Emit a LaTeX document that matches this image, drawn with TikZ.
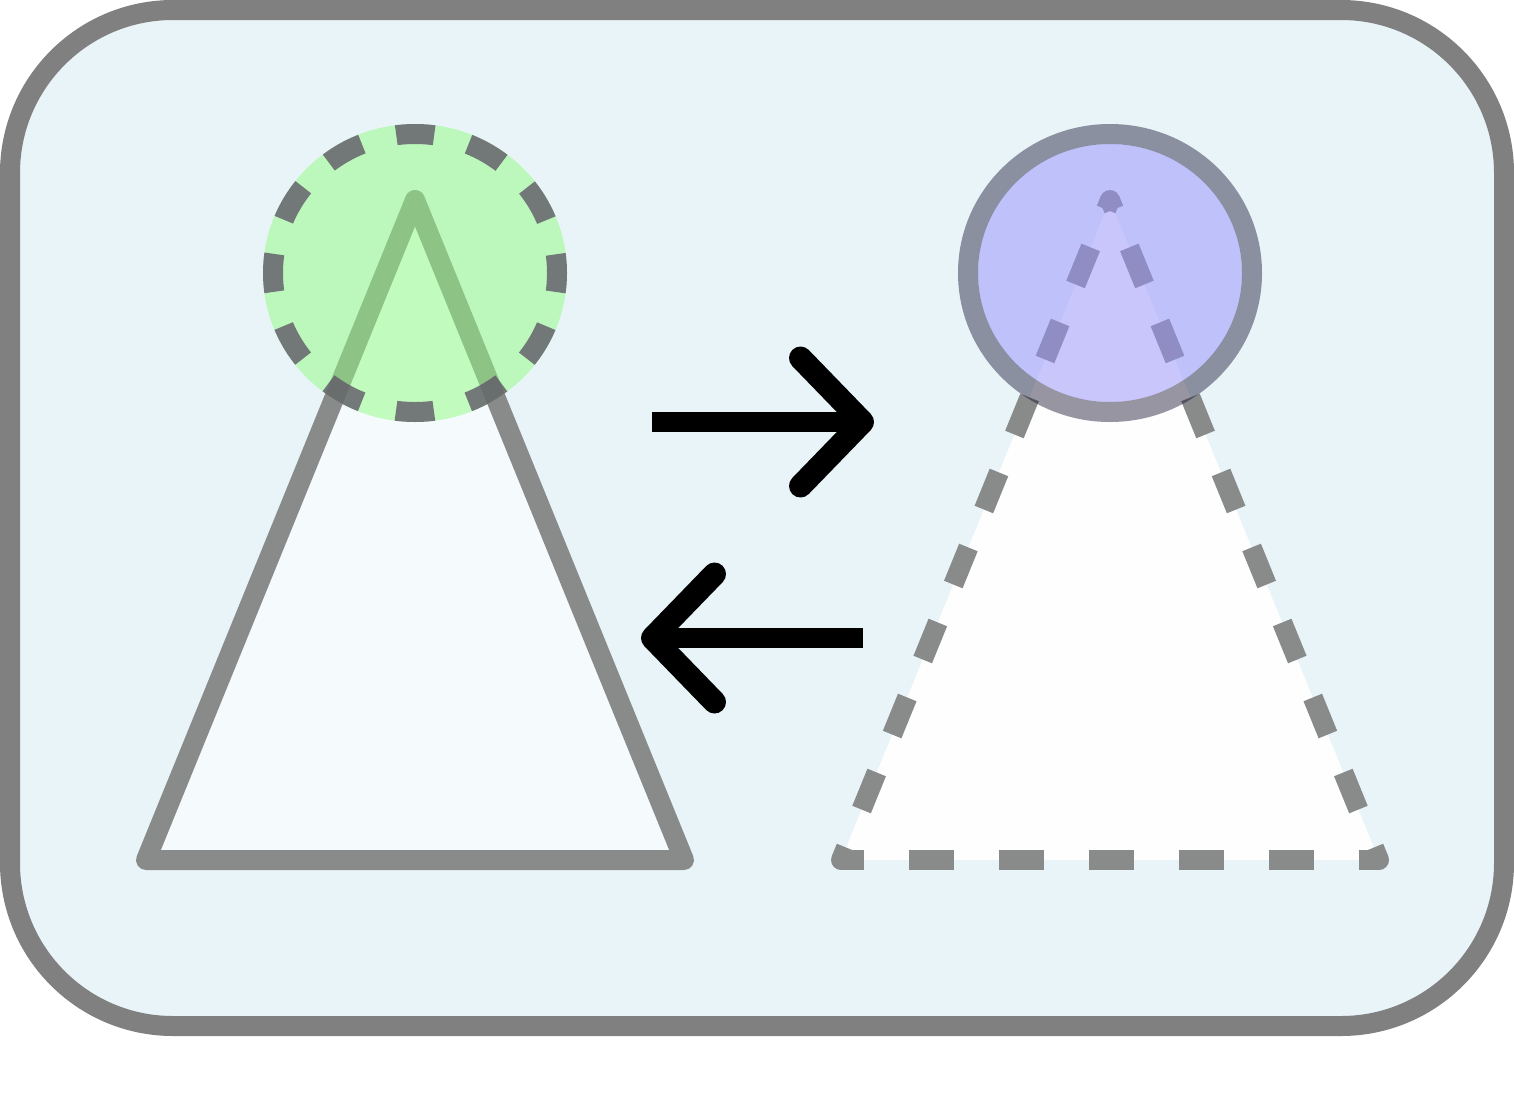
\documentclass[tikz,border=0pt]{standalone}
\usepackage{xcolor}
\usepackage{tikz}
\usetikzlibrary{arrows.meta}
\definecolor{panelfill}{RGB}{233,244,249}
\definecolor{panelline}{RGB}{128,128,128}
\definecolor{conefill}{RGB}{245,250,253}
\definecolor{conefill2}{RGB}{253,254,253}
\definecolor{coneline}{RGB}{137,139,139}
\definecolor{headgreen}{RGB}{145,252,129}
\definecolor{headblue}{RGB}{150,144,251}
\definecolor{ringdash}{RGB}{96,88,103}
\definecolor{ringline}{RGB}{10,6,37}

\begin{document}
\begin{tikzpicture}[x=1pt,y=-1pt,
  panel/.style={draw=panelline,fill=panelfill,line width=20pt,rounded corners=163pt},
  cone/.style={draw=coneline,line width=20pt,line join=round},
  conedash/.style={cone,dash pattern=on 40pt off 41pt,dash phase=26.5pt},
  swaparrow/.style={line width=20pt,
    -{Straight Barb[length=62pt,width=128pt,line width=23pt,round]}}]
\useasboundingbox (0,0) rectangle (1514,1103);

% ---- panel ----
\draw[panel] (10,10) rectangle (1504,1026);

% ---- left figure ----
\coordinate (apexL) at (415,200);
\coordinate (baseLa) at (146,860);
\coordinate (baseLb) at (684,860);
\coordinate (headL) at (415,273);
\draw[cone,fill=conefill] (apexL) -- (baseLa) -- (baseLb) -- cycle;
\fill[headgreen,fill opacity=.5] (headL) ellipse [x radius=152,y radius=149];
\draw[ringdash,draw opacity=.8,line width=20pt,dash pattern=on 38pt off 35.6pt,
      dash phase=19pt] (headL) ellipse [x radius=142,y radius=139];

% ---- right figure ----
\coordinate (apexR) at (1110,200);
\coordinate (baseRa) at (841,860);
\coordinate (baseRb) at (1379,860);
\coordinate (headR) at (1110,273);
\fill[conefill2] (apexR) -- (baseRa) -- (baseRb) -- cycle;
\draw[cone,dash pattern=on 45pt off 45pt,dash phase=22.5pt] (baseRa) -- (baseRb);
\draw[conedash] (baseRa) -- (apexR);
\draw[conedash] (baseRb) -- (apexR);
\foreach \c in {apexR,baseRa,baseRb}
  \fill[coneline] (\c) circle [radius=10];
\fill[headblue,fill opacity=.5] (headR) ellipse [x radius=132,y radius=129];
\draw[ringline,draw opacity=.42,line width=20pt] (headR) ellipse [x radius=142,y radius=139];

% ---- arrows ----
\coordinate (fwdS) at (652,422);
\coordinate (fwdE) at (874,422);
\coordinate (bwdS) at (863,638);
\coordinate (bwdE) at (641,638);
\draw[swaparrow] (fwdS) -- (fwdE);
\draw[swaparrow] (bwdS) -- (bwdE);
\end{tikzpicture}
\end{document}
